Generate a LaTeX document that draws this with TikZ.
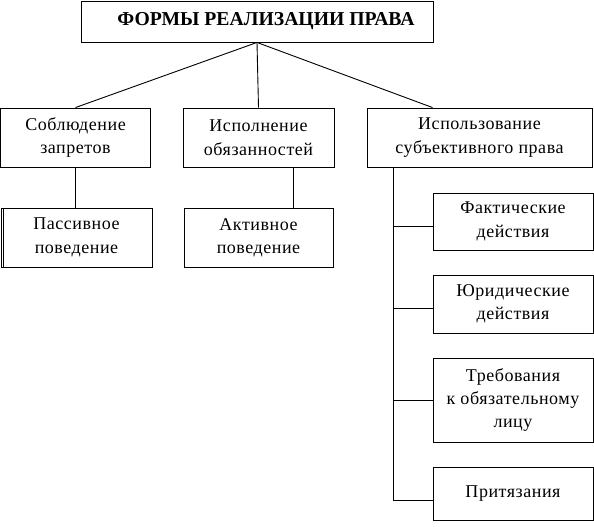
\documentclass[tikz,border=0pt]{standalone}
\usepackage{fontspec}
\setmainfont{Liberation Serif}
\newfontfamily\espace[LetterSpace=3]{Liberation Serif}
\usepackage{tikz}
\usetikzlibrary{calc}
\newcommand{\xt}{393}
\newcommand{\lw}{0.9pt}
\tikzstyle{cadre}=[draw, line width=\lw, inner sep=0pt, align=center, font=\espace\fontsize{18}{23.4}\selectfont]
\tikzstyle{lien}=[line width=\lw]

\begin{document}
\begin{tikzpicture}[x=1pt,y=-1pt]

\useasboundingbox (0,0) rectangle (594,527);

\node[cadre, minimum width=352, minimum height=41, font=\rmfamily\fontsize{19.7}{23}\selectfont\bfseries] (formes) at (257,21.5) {\hspace*{18pt}ФОРМЫ РЕАЛИЗАЦИИ ПРАВА};

\node[cadre, minimum width=150, minimum height=59] (soblud) at (75.5,137.5) {Соблюдение\\запретов};
\node[cadre, minimum width=151, minimum height=59] (ispoln) at (258.5,137.5) {Исполнение\\обязанностей};
\node[cadre, minimum width=225, minimum height=59] (ispolz) at (479.5,137.5) {Использование\\субъективного права};

\node[cadre, minimum width=151, minimum height=59] (passiv) at (76.5,237.5) {Пассивное\\поведение};
\node[cadre, minimum width=149, minimum height=59] (aktiv) at (258.5,237.5) {Активное\\поведение};

\node[cadre, minimum width=160, minimum height=57] (fakt) at (513,221.5) {Фактические\\действия};
\node[cadre, minimum width=160, minimum height=58] (jurid) at (513,304) {Юридические\\действия};
\node[cadre, minimum width=160, minimum height=84] (treb) at (513,400) {Требования\\к обязательному\\лицу};
\node[cadre, minimum width=160, minimum height=53] (pritj) at (513,493.5) {Притязания};

% double bord gauche
\draw[lien] ($(passiv.north west)+(3,0)$) -- ($(passiv.south west)+(3,0)$);

\draw[lien] (formes.south) -- (soblud.north);
\draw[lien] (formes.south) -- (ispoln.north);
\draw[lien] (formes.south) -- ($(ispolz.north)+(-47,0)$);

\draw[lien] (soblud.south) -- (passiv.north -| soblud.south);
\draw[lien] ($(ispoln.south)+(34.5,0)$) coordinate (k) -- (k |- aktiv.north);

\draw[lien] (ispolz.south -| \xt,0) -- (\xt,500);
\foreach \n/\y in {fakt/226,jurid/308,treb/400,pritj/500}
\draw[lien] (\xt,\y) -- (\n.west |- 0,\y);

\end{tikzpicture}
\end{document}
